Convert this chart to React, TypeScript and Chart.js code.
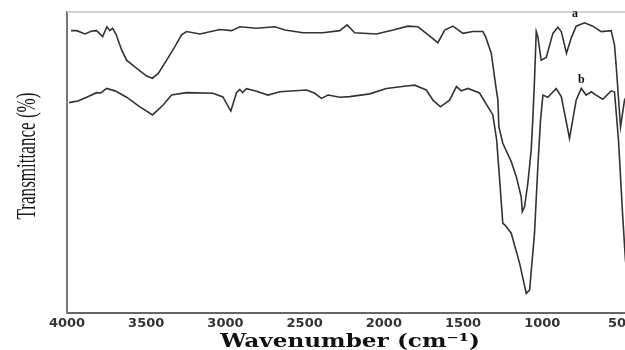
import React, { useEffect, useRef } from "react";
import { Chart, registerables } from "chart.js";
Chart.register(...registerables);

const xTicks = [4000, 3500, 3000, 2500, 2000, 1500, 1000, 500];

const waveA = [3975, 3939, 3886, 3844, 3813, 3775, 3748, 3729, 3712, 3691, 3655, 3624, 3560, 3497, 3461, 3424, 3371, 3319, 3277, 3245, 3161, 3035, 2961, 2909, 2804, 2688, 2625, 2510, 2384, 2278, 2232, 2184, 2047, 1942, 1848, 1785, 1732, 1659, 1616, 1564, 1501, 1438, 1375, 1358, 1322, 1290, 1280, 1274, 1249, 1196, 1164, 1133, 1126, 1112, 1091, 1070, 1059, 1049, 1038, 1028, 1007, 975, 933, 902, 880, 847, 817, 786, 733, 681, 628, 565, 544, 533, 506, 481, 450];
const transA = [93.8, 93.8, 92.7, 93.7, 93.8, 91.8, 95.1, 93.8, 94.6, 92.7, 87.4, 84.0, 81.3, 78.7, 78.0, 79.6, 84.0, 88.5, 92.4, 93.5, 92.7, 94.2, 93.8, 95.1, 94.6, 95.1, 94.0, 93.1, 93.1, 93.8, 95.7, 93.1, 92.7, 94.0, 95.3, 95.1, 92.9, 89.8, 94.0, 95.3, 92.9, 93.5, 93.5, 91.8, 86.3, 74.1, 70.7, 61.9, 56.4, 50.3, 45.3, 38.6, 33.7, 35.3, 43.1, 54.1, 65.2, 77.4, 93.5, 91.8, 84.0, 84.9, 92.9, 94.9, 93.5, 86.3, 91.4, 95.3, 96.4, 95.3, 93.5, 93.8, 89.0, 81.8, 61.8, 70.7, 74.1];

const waveB = [3987, 3931, 3876, 3813, 3786, 3750, 3697, 3624, 3540, 3460, 3393, 3340, 3245, 3079, 3016, 2966, 2930, 2909, 2892, 2867, 2804, 2731, 2657, 2488, 2436, 2394, 2352, 2278, 2215, 2089, 1984, 1858, 1806, 1732, 1690, 1643, 1585, 1542, 1511, 1469, 1396, 1312, 1288, 1269, 1249, 1235, 1196, 1143, 1101, 1080, 1049, 1028, 1011, 996, 965, 912, 880, 828, 786, 754, 723, 691, 660, 618, 565, 544, 519, 492, 475, 455];
const transB = [69.9, 70.4, 71.7, 73.2, 73.1, 74.6, 73.8, 71.7, 68.5, 65.8, 69.1, 72.4, 73.2, 73.0, 71.8, 67.1, 73.2, 74.3, 73.2, 74.5, 73.7, 72.4, 73.5, 74.1, 73.0, 71.3, 72.4, 71.7, 71.9, 72.8, 74.6, 75.4, 75.7, 74.1, 70.7, 68.5, 70.7, 75.2, 73.8, 74.6, 73.1, 65.8, 57.5, 44.2, 29.8, 29.2, 26.5, 16.5, 6.5, 7.6, 26.5, 48.6, 64.1, 72.4, 71.7, 74.6, 71.9, 58.0, 70.7, 74.6, 72.4, 73.5, 72.4, 71.0, 73.8, 73.4, 57.5, 32.0, 17.6, 8];

const curveLabels = ["a", "b"];
const curveLabelWave = [793, 754];
const curveLabelTrans = [99.5, 77.5];

const yTitle = "Transmittance (%)";
const xTitle = "Wavenumber (cm\u207B\u00B9)";

const overlay = {
  id: "overlay",
  afterDraw(chart: any) {
    const { ctx, chartArea, scales } = chart;
    ctx.save();
    ctx.strokeStyle = "#c4c4c4";
    ctx.lineWidth = 1.5;
    ctx.beginPath();
    ctx.moveTo(chartArea.left, chartArea.top);
    ctx.lineTo(chartArea.right, chartArea.top);
    ctx.stroke();

    ctx.fillStyle = "#111";
    ctx.font = "bold 12px 'Liberation Serif'";
    ctx.textAlign = "center";
    ctx.textBaseline = "middle";
    curveLabels.forEach((t, i) => {
      ctx.fillText(t, scales.x.getPixelForValue(curveLabelWave[i]), scales.y.getPixelForValue(curveLabelTrans[i]));
    });

    // x axis title (wide bold serif)
    ctx.save();
    ctx.translate(350, 347);
    ctx.scale(1.22, 1);
    ctx.font = "bold 19px 'DejaVu Serif'";
    ctx.textBaseline = "alphabetic";
    ctx.fillStyle = "#111";
    ctx.fillText(xTitle, 0, 0);
    ctx.restore();

    // y axis title (condensed serif)
    ctx.translate(35, 156);
    ctx.rotate(-Math.PI / 2);
    ctx.scale(0.61, 1);
    ctx.font = "28px 'Liberation Serif'";
    ctx.textBaseline = "alphabetic";
    ctx.fillStyle = "#1a1a1a";
    ctx.fillText(yTitle, 0, 0);
    ctx.restore();
  },
};

export default function App() {
  const ref = useRef<HTMLCanvasElement>(null);
  useEffect(() => {
    if (!ref.current) return;
    const mk = (w: number[], t: number[]) => w.map((x, i) => ({ x, y: t[i] }));
    const ds = (data: any) => ({
      data,
      borderColor: "#333",
      borderWidth: 1.6,
      pointRadius: 0,
      tension: 0,
      fill: false,
    });
    const chart = new Chart(ref.current, {
      type: "line",
      data: { datasets: [ds(mk(waveA, transA)), ds(mk(waveB, transB))] },
      options: {
        responsive: false,
        animation: false,
        devicePixelRatio: 1,
        layout: { padding: { top: 12, left: 0, right: 0, bottom: 0 } },
        plugins: { legend: { display: false }, tooltip: { enabled: false } },
        scales: {
          x: {
            type: "linear",
            reverse: true,
            min: 320,
            max: 4000,
            afterBuildTicks: (s: any) => {
              s.ticks = xTicks.map((v) => ({ value: v }));
            },
            afterFit: (s: any) => {
              s.height = 37;
            },
            grid: { display: false },
            border: { display: true, color: "#666", width: 2 },
            ticks: {
              autoSkip: false,
              maxRotation: 0,
              padding: -5,
              color: "#333",
              font: { family: "'DejaVu Sans'", weight: "bold", size: 13 },
              callback: (v: any) => String(v),
            },
            title: { display: false },
          },
          y: {
            min: 0,
            max: 100,
            afterFit: (s: any) => {
              s.width = 67;
            },
            grid: { display: false },
            border: { display: true, color: "#777", width: 2 },
            ticks: { display: false },
            title: { display: false },
          },
        },
      },
      plugins: [overlay],
    });
    return () => chart.destroy();
  }, []);
  return (
    <div style={{ position: "fixed", left: 0, top: 0, width: 625, height: 350, overflow: "hidden", background: "#fff" }}>
      <canvas ref={ref} width={650} height={350} style={{ display: "block" }} />
    </div>
  );
}
